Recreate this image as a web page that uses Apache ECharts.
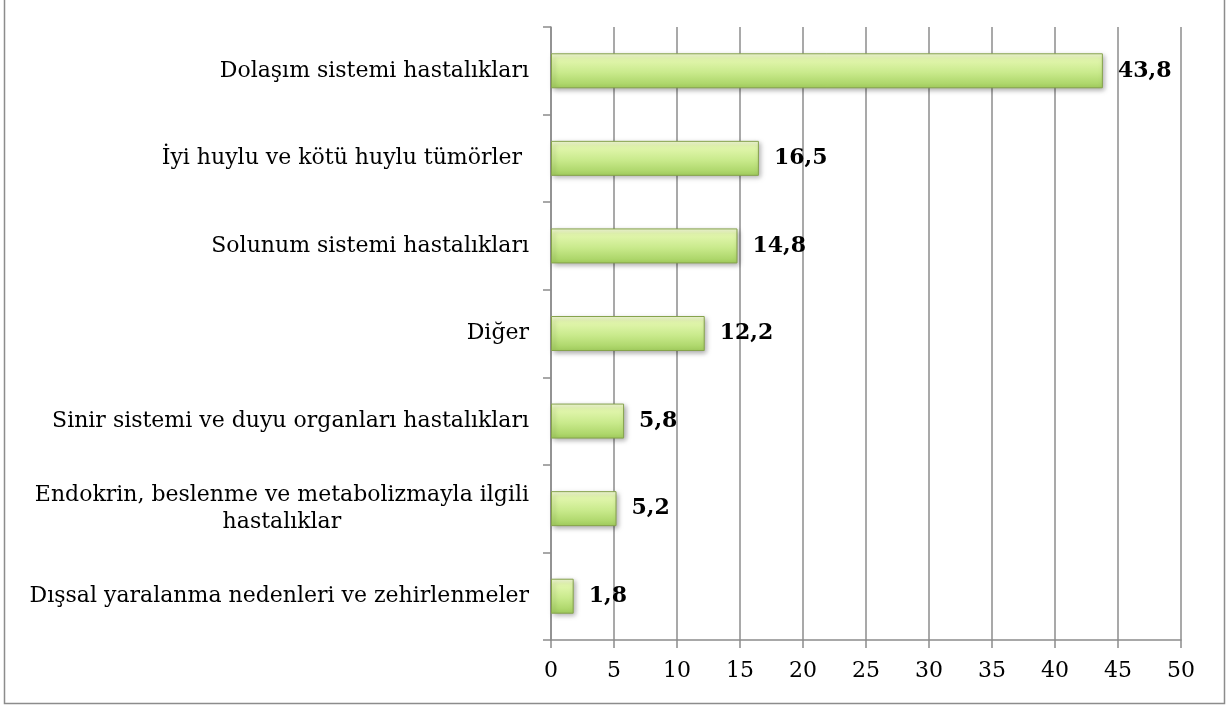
<!DOCTYPE html>
<html><head><meta charset="utf-8">
<script src="https://cdn.jsdelivr.net/npm/echarts@6/dist/echarts.min.js"></script>
<style>html,body{margin:0;padding:0;background:#fff}#c{width:1227px;height:705px}</style>
</head><body><div id="c"></div>
<script>
// Categories listed bottom-to-top (ECharts category y-axis starts at bottom)
var categories = [
  'Dışsal yaralanma nedenleri ve zehirlenmeler',
  'Endokrin, beslenme ve metabolizmayla ilgili\nhastalıklar',
  'Sinir sistemi ve duyu organları hastalıkları',
  'Diğer',
  'Solunum sistemi hastalıkları',
  'İyi huylu ve kötü huylu tümörler ',
  'Dolaşım sistemi hastalıkları'
];
var values = [1.8, 5.2, 5.8, 12.2, 14.8, 16.5, 43.8];
var valueLabels = ['1,8', '5,2', '5,8', '12,2', '14,8', '16,5', '43,8'];
var xTicks = [0, 5, 10, 15, 20, 25, 30, 35, 40, 45, 50];

var FONT = '"DejaVu Serif", serif';
var chart = echarts.init(document.getElementById('c'), null, {renderer: 'canvas'});
chart.setOption({
  animation: false,
  grid: {left: 551, right: 46, top: 27, bottom: 65, containLabel: false},
  graphic: [{
    type: 'rect', silent: true, z: -1,
    shape: {x: 4.5, y: -2, width: 1220, height: 705.5},
    style: {fill: 'none', stroke: '#8c8c8c', lineWidth: 1.5}
  }],
  xAxis: {
    type: 'value', min: xTicks[0], max: xTicks[xTicks.length - 1], interval: 5,
    axisLine: {show: true, lineStyle: {color: '#8c8c8c', width: 1.5}},
    axisTick: {show: true, length: 8, lineStyle: {color: '#8c8c8c', width: 1.5}},
    splitLine: {show: true, lineStyle: {color: '#8c8c8c', width: 1.5}},
    axisLabel: {color: '#000', fontFamily: FONT, fontSize: 22, margin: 20}
  },
  yAxis: {
    type: 'category', data: categories,
    axisLine: {show: true, lineStyle: {color: '#8c8c8c', width: 1.5}},
    axisTick: {show: true, length: 8, lineStyle: {color: '#8c8c8c', width: 1.5}},
    axisLabel: {
      color: '#000', fontFamily: FONT, fontSize: 22, margin: 22, lineHeight: 27,
      formatter: function (v) {
        return v.split('\n').map(function (s) { return '{c|' + s + '}'; }).join('\n');
      },
      rich: {c: {align: 'center', fontFamily: FONT, fontSize: 22, color: '#000', lineHeight: 27}}
    }
  },
  series: [{
    type: 'bar', data: values, barWidth: 35,
    itemStyle: {
      color: new echarts.graphic.LinearGradient(0, 0, 0, 1, [
        {offset: 0, color: '#f6fcdc'},
        {offset: 0.15, color: '#e4f7b0'},
        {offset: 0.55, color: '#c9ea8c'},
        {offset: 1, color: '#a3cf5e'}
      ]),
      borderColor: '#86a34c', borderWidth: 1,
      shadowColor: 'rgba(0,0,0,0.35)', shadowBlur: 5, shadowOffsetX: 2, shadowOffsetY: 2
    },
    label: {
      show: true, position: 'right', distance: 15,
      formatter: function (p) { return valueLabels[p.dataIndex]; },
      color: '#000', fontFamily: FONT, fontWeight: 'bold', fontSize: 22
    }
  }]
});
</script></body></html>
